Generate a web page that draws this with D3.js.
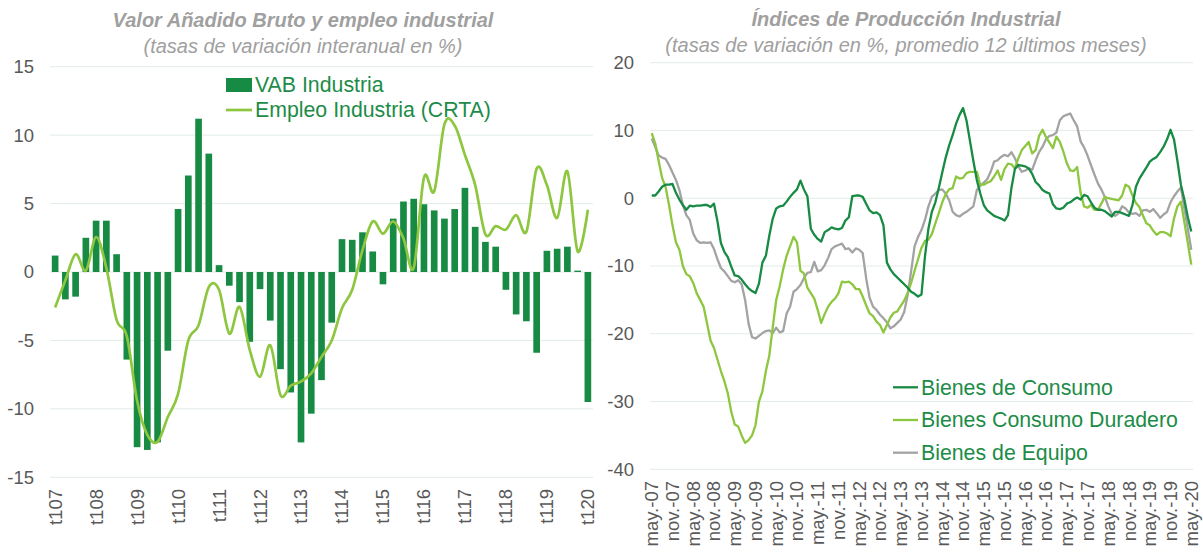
<!DOCTYPE html>
<html><head><meta charset="utf-8">
<script src="https://cdn.jsdelivr.net/npm/d3@7"></script>
<style>
body{margin:0;background:#fff}
text{font-family:Arial,"Liberation Sans",sans-serif}
</style>
</head><body>
<svg id="c" width="1203" height="552"></svg>
<script>
// ---------- LEFT CHART DATA ----------
const quarters = [];
for (let y = 7; y <= 20; y++) for (let q = 1; q <= 4; q++) {
  if (y === 20 && q > 1) break;
  quarters.push("t" + q + String(y).padStart(2, "0"));
}
const vabIndustria = [1.2, -2.0, -1.8, 2.5, 3.75, 3.75, 1.3, -6.4, -12.8, -13.0,
  -12.45, -5.75, 4.6, 7.05, 11.2, 8.65, 0.5, -1.0, -2.2, -5.1,
  -1.25, -3.55, -7.1, -8.8, -12.45, -10.35, -7.9, -3.7, 2.4, 2.35,
  2.9, 1.5, -0.9, 3.9, 5.15, 5.35, 4.95, 4.5, 3.9, 4.6,
  6.15, 3.3, 2.2, 1.85, -1.3, -3.1, -3.6, -5.9, 1.55, 1.7,
  1.85, 0.1, -9.5];
const empleoIndustria = [-2.6, -0.6, 1.3, 0.1, 2.55, 0.3, -3.5, -4.7, -9.4, -11.9,
  -12.4, -10.6, -8.9, -5.0, -3.9, -1.1, -1.3, -4.5, -2.55, -5.7,
  -7.65, -5.35, -9.0, -8.3, -8.0, -7.4, -6.2, -5.0, -2.65, -1.3,
  1.6, 3.7, 2.8, 3.7, 2.45, 0.3, 6.9, 5.9, 10.8, 10.7,
  8.55, 6.35, 2.75, 3.35, 3.1, 4.15, 2.95, 7.55, 6.35, 3.95,
  7.35, 1.5, 4.55];
const yTicksL = [-15, -10, -5, 0, 5, 10, 15];
const xTickLabelsL = ["t107","t108","t109","t110","t111","t112","t113","t114","t115","t116","t117","t118","t119","t120"];

// ---------- RIGHT CHART DATA ----------
const monthNames = ["ene","feb","mar","abr","may","jun","jul","ago","sep","oct","nov","dic"];
const months = [];
for (let k = 0; k < 157; k++) {
  const m = (4 + k) % 12, y = 7 + Math.floor((4 + k) / 12);
  months.push(monthNames[m] + ".-" + String(y).padStart(2, "0"));
}
const bienesConsumo = [0.4, 0.4, 1.0, 1.7, 2.0, 2.0, 2.1, 0.8, -0.2, -1.0,
  -1.7, -1.1, -1.2, -1.1, -1.1, -1.0, -1.0, -1.3, -0.8, -3.4,
  -6.6, -7.9, -8.7, -10.1, -11.4, -11.5, -12.0, -12.7, -13.3, -13.7,
  -14.0, -12.6, -9.5, -8.5, -5.5, -3.0, -1.5, -1.2, -1.1, -0.5,
  0.2, 0.8, 1.3, 2.6, 1.3, 0.3, -4.5, -5.4, -6.0, -6.4,
  -5.0, -4.7, -4.3, -4.5, -4.6, -4.4, -3.3, -2.8, 0.3, 0.4,
  0.4, 0.2, -0.8, -1.8, -2.2, -2.1, -2.5, -4.0, -9.5, -10.5,
  -11.2, -11.7, -12.2, -12.7, -13.2, -13.8, -14.1, -14.5, -14.2, -8.6,
  -4.5, -2.0, -0.6, 1.5, 3.8, 6.0, 7.8, 9.3, 11.0, 12.3,
  13.3, 11.5, 8.5, 5.5, 2.7, 0.7, -1.0, -1.8, -2.2, -2.6,
  -2.8, -3.0, -3.3, -2.5, 1.5, 4.3, 4.9, 4.8, 4.7, 4.4,
  3.6, 2.4, 1.9, 1.2, 0.9, 0.7, -0.9, -1.5, -1.6, -1.4,
  -0.8, -0.6, -0.2, 0.1, -0.2, 0.5, 0.3, -0.6, -1.4, -1.7,
  -1.7, -1.9, -2.3, -2.7, -2.0, -2.0, -2.2, -2.4, -2.6, -1.0,
  1.7, 2.9, 3.7, 4.5, 5.4, 5.8, 6.1, 6.8, 7.6, 8.7,
  10.1, 8.7, 5.5, 2.0, -0.2, -2.8, -4.9];
const bienesConsumoDuradero = [9.6, 8.1, 5.5, 3.0, 1.7, -1.0, -4.0, -6.5, -7.6, -10.0,
  -11.2, -11.5, -12.5, -14.0, -15.0, -16.0, -18.5, -21.0, -22.1, -23.8,
  -25.5, -27.0, -28.8, -31.5, -33.4, -33.7, -35.0, -36.1, -35.7, -35.0,
  -33.5, -30.0, -28.5, -25.5, -23.2, -19.0, -15.0, -13.0, -10.5, -8.5,
  -7.1, -5.7, -6.5, -10.7, -11.1, -13.2, -14.0, -14.8, -16.5, -18.4,
  -17.1, -16.0, -15.3, -14.8, -14.0, -12.3, -12.4, -12.3, -12.7, -13.4,
  -13.4, -14.5, -15.8, -17.0, -17.4, -18.2, -18.7, -19.8, -18.7, -17.6,
  -16.9, -16.7, -15.9, -15.1, -14.0, -12.5, -10.7, -9.0, -7.3, -6.3,
  -6.1, -5.3, -3.7, -2.2, -0.6, 0.6, 1.3, 1.5, 3.2, 2.9,
  3.0, 3.7, 3.9, 3.9, 3.9, 2.0, 2.0, 2.3, 2.5, 3.2,
  4.1, 2.7, 4.3, 5.1, 5.0, 4.4, 5.9, 7.1, 7.7, 8.3,
  6.6, 7.1, 9.2, 10.1, 9.0, 8.2, 7.4, 9.1, 8.3, 6.9,
  5.2, 4.1, 4.0, 4.6, 0.8, -1.2, -1.4, -1.0, -1.7, -1.7,
  -0.8, 0.2, 0.0, -0.1, -0.2, -0.3, 0.4, 2.0, 1.7, 0.4,
  -0.7, -1.3, -2.5, -3.7, -4.0, -4.8, -5.4, -5.0, -5.0, -5.2,
  -5.6, -3.0, -1.2, -0.5, -3.5, -6.6, -9.8];
const bienesEquipo = [8.8, 7.6, 6.3, 6.0, 5.8, 4.9, 3.8, 2.7, 1.2, -1.0,
  -2.5, -3.2, -5.2, -6.2, -6.6, -6.5, -6.6, -6.5, -7.5, -9.0,
  -10.3, -10.8, -11.5, -12.2, -12.4, -12.1, -12.7, -15.0, -18.5, -20.5,
  -20.7, -20.3, -19.9, -19.6, -19.5, -19.9, -19.1, -19.8, -19.6, -17.0,
  -16.0, -13.8, -13.4, -12.8, -11.8, -11.0, -10.9, -9.4, -10.8, -10.6,
  -9.9, -8.8, -7.5, -7.1, -6.9, -6.7, -7.5, -7.4, -8.0, -7.4,
  -7.6, -8.1, -11.8, -14.7, -16.0, -16.5, -17.2, -17.7, -18.3, -19.2,
  -18.9, -18.4, -17.9, -16.8, -14.3, -10.8, -7.1, -5.7, -4.7, -3.2,
  -1.2, 0.2, 0.7, 1.2, 1.3, 0.7, -0.3, -2.0, -2.5, -2.7,
  -2.3, -2.0, -1.6, -1.2, 1.2, 1.8, 2.3, 2.8, 3.9, 5.4,
  5.6, 6.1, 6.4, 6.2, 6.8, 5.9, 4.7, 3.9, 4.1, 4.4,
  4.2, 5.6, 6.8, 7.6, 8.7, 9.2, 9.3, 9.7, 11.5, 12.1,
  12.3, 12.5, 11.5, 10.6, 8.4, 7.5, 6.3, 4.9, 3.5, 2.2,
  1.3, 0.2, -1.2, -2.3, -2.6, -2.2, -1.2, -1.5, -2.1, -2.3,
  -2.2, -2.6, -1.8, -1.7, -2.0, -1.6, -2.2, -2.9, -2.4, -2.0,
  -0.6, 0.3, 1.0, 1.6, -1.5, -4.5, -7.6];
const yTicksR = [-40, -30, -20, -10, 0, 10, 20];
const xTickLabelsR = ["may.-07","nov.-07","may.-08","nov.-08","may.-09","nov.-09","may.-10","nov.-10",
  "may.-11","nov.-11","may.-12","nov.-12","may.-13","nov.-13","may.-14","nov.-14","may.-15","nov.-15",
  "may.-16","nov.-16","may.-17","nov.-17","may.-18","nov.-18","may.-19","nov.-19","may.-20"];

// ---------- STYLE ----------
const C_DARK = "#178a43", C_LIGHT = "#8dc63f", C_GRAY = "#a3a3a3";
const C_GRID = "#e2ece5", C_AXIS = "#595959", C_TITLE = "#a0a0a0", C_LEG = "#1d8c48";
const svg = d3.select("#c");

// ---------- LEFT ----------
const xL = d3.scaleBand().domain(quarters).range([50, 593]).paddingInner(0.35).paddingOuter(0.175);
const yL = d3.scaleLinear().domain([-15, 15]).range([477.3, 66.7]);
const gL = svg.append("g");
gL.selectAll("line.grid").data(yTicksL).join("line")
  .attr("x1", 50).attr("x2", 593).attr("y1", d => yL(d)).attr("y2", d => yL(d))
  .attr("stroke", C_GRID).attr("stroke-width", 1);
gL.selectAll("text.yt").data(yTicksL).join("text")
  .attr("x", 34).attr("y", d => yL(d)).attr("dy", "0.35em").attr("text-anchor", "end")
  .attr("font-size", 18.5).attr("fill", C_AXIS).text(d => d);
gL.selectAll("rect.bar").data(vabIndustria).join("rect")
  .attr("x", (d, i) => xL(quarters[i])).attr("width", xL.bandwidth())
  .attr("y", d => yL(Math.max(0, d))).attr("height", d => Math.abs(yL(d) - yL(0)))
  .attr("fill", C_DARK);
const lineL = d3.line().x((d, i) => xL(quarters[i]) + xL.bandwidth() / 2).y(d => yL(d))
  .curve(d3.curveCardinal.tension(0));
gL.append("path").attr("d", lineL(empleoIndustria)).attr("fill", "none")
  .attr("stroke", C_LIGHT).attr("stroke-width", 2.7);
gL.selectAll("text.xt").data(xTickLabelsL).join("text")
  .attr("transform", d => `translate(${xL(d) + xL.bandwidth() / 2},489) rotate(-90)`)
  .attr("dy", "0.35em").attr("text-anchor", "end")
  .attr("font-size", 18.5).attr("fill", C_AXIS).text(d => d);
// legend
gL.append("rect").attr("x", 226).attr("y", 78).attr("width", 26).attr("height", 14).attr("fill", C_DARK);
gL.append("text").attr("x", 255).attr("y", 85).attr("dy", "0.35em").attr("font-size", 21.3).attr("fill", C_LEG).text("VAB Industria");
gL.append("line").attr("x1", 226).attr("x2", 252).attr("y1", 110).attr("y2", 110).attr("stroke", C_LIGHT).attr("stroke-width", 2.7);
gL.append("text").attr("x", 255).attr("y", 110).attr("dy", "0.35em").attr("font-size", 21.3).attr("fill", C_LEG).text("Empleo Industria (CRTA)");
// titles
gL.append("text").attr("x", 303).attr("y", 27).attr("text-anchor", "middle").attr("font-size", 20)
  .attr("font-weight", "bold").attr("font-style", "italic").attr("fill", C_TITLE).text("Valor Añadido Bruto y empleo industrial");
gL.append("text").attr("x", 303).attr("y", 53).attr("text-anchor", "middle").attr("font-size", 20)
  .attr("font-style", "italic").attr("fill", C_TITLE).text("(tasas de variación interanual en %)");

// ---------- RIGHT ----------
const xR = d3.scaleBand().domain(months).range([650, 1193]);
const yR = d3.scaleLinear().domain([-40, 20]).range([469.3, 62.7]);
const gR = svg.append("g");
gR.selectAll("line.grid").data(yTicksR).join("line")
  .attr("x1", 650).attr("x2", 1193).attr("y1", d => yR(d)).attr("y2", d => yR(d))
  .attr("stroke", C_GRID).attr("stroke-width", 1);
gR.selectAll("text.yt").data(yTicksR).join("text")
  .attr("x", 634).attr("y", d => yR(d)).attr("dy", "0.35em").attr("text-anchor", "end")
  .attr("font-size", 18.5).attr("fill", C_AXIS).text(d => d);
const lineR = d3.line().x((d, i) => xR(months[i]) + xR.bandwidth() / 2).y(d => yR(d));
const seriesR = [
  {name: "Bienes de Consumo", values: bienesConsumo, color: C_DARK},
  {name: "Bienes Consumo Duradero", values: bienesConsumoDuradero, color: C_LIGHT},
  {name: "Bienes de Equipo", values: bienesEquipo, color: C_GRAY}
];
[seriesR[2], seriesR[1], seriesR[0]].forEach(s => {
  gR.append("path").attr("d", lineR(s.values)).attr("fill", "none")
    .attr("stroke", s.color).attr("stroke-width", 2.3).attr("stroke-linejoin", "round");
});
gR.selectAll("text.xt").data(xTickLabelsR).join("text")
  .attr("transform", d => `translate(${xR(d) + xR.bandwidth() / 2},481) rotate(-90)`)
  .attr("dy", "0.35em").attr("text-anchor", "end")
  .attr("font-size", 18.5).attr("fill", C_AXIS).text(d => d);
seriesR.forEach((s, i) => {
  const y = 387.3 + i * 32.7;
  gR.append("line").attr("x1", 893).attr("x2", 918).attr("y1", y).attr("y2", y).attr("stroke", s.color).attr("stroke-width", 2.3);
  gR.append("text").attr("x", 921).attr("y", y).attr("dy", "0.35em").attr("font-size", 21.3).attr("fill", C_LEG).text(s.name);
});
gR.append("text").attr("x", 906).attr("y", 26).attr("text-anchor", "middle").attr("font-size", 20)
  .attr("font-weight", "bold").attr("font-style", "italic").attr("fill", C_TITLE).text("Índices de Producción Industrial");
gR.append("text").attr("x", 906).attr("y", 52).attr("text-anchor", "middle").attr("font-size", 20)
  .attr("font-style", "italic").attr("fill", C_TITLE).text("(tasas de variación en %, promedio 12 últimos meses)");
</script>
</body></html>
